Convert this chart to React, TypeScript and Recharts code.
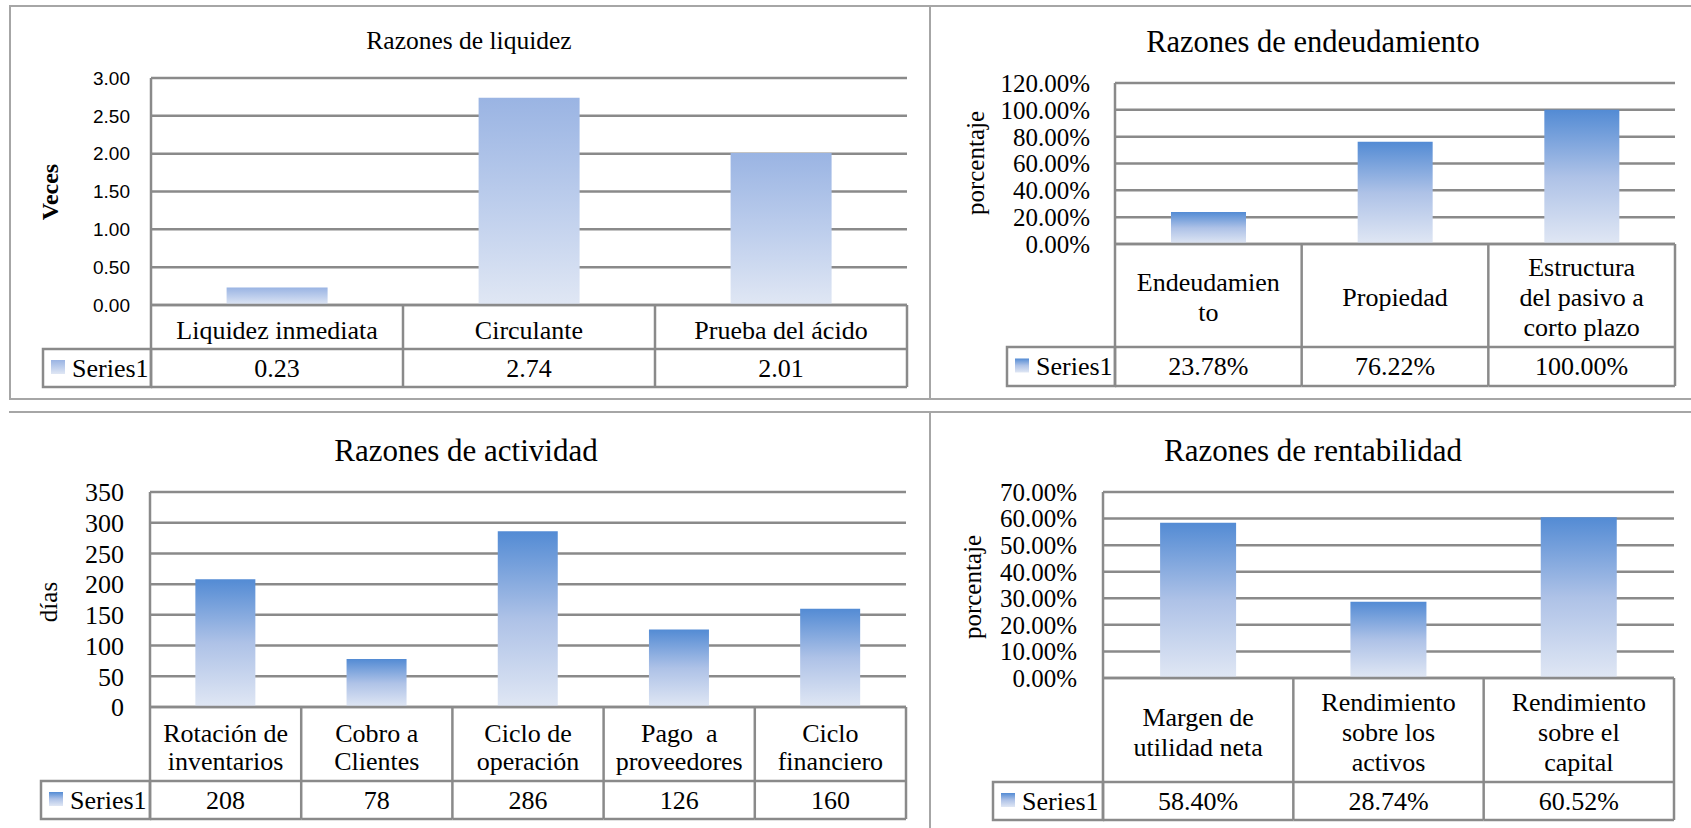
import React from 'react'
import { BarChart, Bar, XAxis, YAxis, CartesianGrid } from 'recharts'

// ---- datos ----
const liquidezCategorias = ['Liquidez inmediata', 'Circulante', 'Prueba del ácido']
const liquidezValores = [0.23, 2.74, 2.01]
const liquidezTicks = [0, 0.5, 1, 1.5, 2, 2.5, 3]

const endeudamientoCategorias = ['Endeudamien\nto', 'Propiedad', 'Estructura\ndel pasivo a\ncorto plazo']
const endeudamientoValores = [0.2378, 0.7622, 1.0]
const endeudamientoTicks = [0, 0.2, 0.4, 0.6, 0.8, 1.0, 1.2]

const actividadCategorias = ['Rotación de\ninventarios', 'Cobro a\nClientes', 'Ciclo de\noperación', 'Pago  a\nproveedores', 'Ciclo\nfinanciero']
const actividadValores = [208, 78, 286, 126, 160]
const actividadTicks = [0, 50, 100, 150, 200, 250, 300, 350]

const rentabilidadCategorias = ['Margen de\nutilidad neta', 'Rendimiento\nsobre los\nactivos', 'Rendimiento\nsobre el\ncapital']
const rentabilidadValores = [0.584, 0.2874, 0.6052]
const rentabilidadTicks = [0, 0.1, 0.2, 0.3, 0.4, 0.5, 0.6, 0.7]

const serieNombre = 'Series1'

const GRID = '#8a8a8a'
const SERIF = '"Liberation Serif", "Times New Roman", serif'
const TABLE_FONT = 26

const fmt2 = (v: number) => v.toFixed(2)
const fmtPct = (v: number) => (v * 100).toFixed(2) + '%'
const fmtInt = (v: number) => String(Math.round(v))

interface Cfg {
  id: string
  title: string
  titleX: number
  titleY: number
  titleSize: number
  panel: { x: number; y: number; w: number; h: number }
  plot: { l: number; r: number; t: number; b: number }
  catBottom: number
  seriesBottom: number
  legendLeft: number
  categories: string[]
  values: number[]
  ticks: number[]
  tickFmt: (v: number) => string
  valueFmt: (v: number) => string
  tickFont: string
  tickSize: number
  tickMargin: number
  yLabel: string
  yLabelX: number
  yLabelY: number
  yLabelBold?: boolean
  yLabelSize: number
  colors: [string, string, string]
  lineH: number
  catShift: number
}

const AxisTitle = (props: any) => {
  const { cx, cy, text, bold, size } = props
  return (
    <text
      x={cx}
      y={cy}
      transform={`rotate(-90 ${cx} ${cy})`}
      textAnchor="middle"
      dominantBaseline="central"
      fontFamily={SERIF}
      fontSize={size}
      fontWeight={bold ? 'bold' : 'normal'}
      fill="#000"
    >
      {text}
    </text>
  )
}

// la tabla de datos de Excel se dibuja en cada tick del eje X
function makeTick(c: Cfg) {
  return (props: any) => {
    const { x, payload } = props
    const i = payload.index
    const ox = c.panel.x
    const oy = c.panel.y
    const w = (c.plot.r - c.plot.l) / c.categories.length
    const L = x - w / 2
    const R = x + w / 2
    const yTop = c.plot.b - oy
    const yMid = c.catBottom - oy
    const yBot = c.seriesBottom - oy
    const lines = String(payload.value).split('\n')
    const base = TABLE_FONT * 0.34
    const catCenter = (yTop + yMid) / 2 + c.catShift
    const first = catCenter - ((lines.length - 1) * c.lineH) / 2 + base
    const valCenter = (yMid + yBot) / 2 + base
    const ll = c.legendLeft - ox
    const pl = c.plot.l - ox
    return (
      <g>
        {i === 0 && (
          <g>
            <line x1={pl} y1={yTop} x2={pl} y2={yBot} stroke={GRID} strokeWidth={2.5} />
            <rect x={ll} y={yMid} width={pl - ll} height={yBot - yMid} fill="none" stroke={GRID} strokeWidth={2.5} />
            <rect x={ll + 8} y={(yMid + yBot) / 2 - 8} width={14} height={14} fill={`url(#g-${c.id})`} />
            <text x={ll + 29} y={valCenter} fontFamily={SERIF} fontSize={TABLE_FONT} fill="#000">
              {serieNombre}
            </text>
          </g>
        )}
        <line x1={L} y1={yTop} x2={R} y2={yTop} stroke={GRID} strokeWidth={2.5} />
        <line x1={L} y1={yMid} x2={R} y2={yMid} stroke={GRID} strokeWidth={2.5} />
        <line x1={L} y1={yBot} x2={R} y2={yBot} stroke={GRID} strokeWidth={2.5} />
        <line x1={R} y1={yTop} x2={R} y2={yBot} stroke={GRID} strokeWidth={2.5} />
        <text textAnchor="middle" fontFamily={SERIF} fontSize={TABLE_FONT} fill="#000">
          {lines.map((ln, k) => (
            <tspan key={k} x={x} y={first + k * c.lineH} style={{ whiteSpace: 'pre' }}>
              {ln}
            </tspan>
          ))}
        </text>
        <text x={x} y={valCenter} textAnchor="middle" fontFamily={SERIF} fontSize={TABLE_FONT} fill="#000">
          {c.valueFmt(c.values[i])}
        </text>
      </g>
    )
  }
}

function RatioChart({ c }: { c: Cfg }) {
  const data = c.categories.map((name, i) => ({ name, valor: c.values[i] }))
  const { panel, plot } = c
  const margin = {
    top: plot.t - panel.y,
    left: 0,
    right: panel.x + panel.w - plot.r,
    bottom: panel.y + panel.h - c.seriesBottom,
  }
  return (
    <div style={{ position: 'absolute', left: panel.x, top: panel.y, width: panel.w, height: panel.h }}>
      <div
        style={{
          position: 'absolute',
          left: c.titleX - panel.x,
          top: c.titleY - panel.y,
          transform: 'translate(-50%, -50%)',
          fontFamily: SERIF,
          fontSize: c.titleSize,
          whiteSpace: 'nowrap',
          color: '#000',
        }}
      >
        {c.title}
      </div>
      <BarChart width={panel.w} height={panel.h} data={data} margin={margin} barCategoryGap="30%">
        <defs>
          <linearGradient id={`g-${c.id}`} x1="0" y1="0" x2="0" y2="1">
            <stop offset="0%" stopColor={c.colors[0]} />
            <stop offset="50%" stopColor={c.colors[1]} />
            <stop offset="100%" stopColor={c.colors[2]} />
          </linearGradient>
        </defs>
        <CartesianGrid vertical={false} stroke={GRID} strokeWidth={2.5} />
        <XAxis
          dataKey="name"
          interval={0}
          axisLine={false}
          tickLine={false}
          tickSize={0}
          tickMargin={0}
          height={c.seriesBottom - plot.b}
          tick={makeTick(c)}
        />
        <YAxis
          width={plot.l - panel.x}
          domain={[c.ticks[0], c.ticks[c.ticks.length - 1]]}
          ticks={c.ticks}
          interval={0}
          tickFormatter={c.tickFmt}
          axisLine={{ stroke: GRID, strokeWidth: 2.5 }}
          tickLine={false}
          tickSize={0}
          tickMargin={c.tickMargin}
          tick={{ fill: '#000', fontSize: c.tickSize, fontFamily: c.tickFont }}
          label={
            <AxisTitle
              cx={c.yLabelX - panel.x}
              cy={c.yLabelY - panel.y}
              text={c.yLabel}
              bold={c.yLabelBold}
              size={c.yLabelSize}
            />
          }
        />
        <Bar dataKey="valor" fill={`url(#g-${c.id})`} isAnimationActive={false} />
      </BarChart>
    </div>
  )
}

const BLUE: [string, string, string] = ['#538bd4', '#aec2e7', '#e0e7f4']
const LIGHT: [string, string, string] = ['#9ab4e3', '#bccdec', '#e0e7f4']

const charts: Cfg[] = [
  {
    id: 'liq', title: 'Razones de liquidez', titleX: 469, titleY: 41, titleSize: 25.5,
    panel: { x: 0, y: 0, w: 930, h: 400 }, plot: { l: 151, r: 907, t: 78, b: 305 },
    catBottom: 349, seriesBottom: 387, legendLeft: 43,
    categories: liquidezCategorias, values: liquidezValores, ticks: liquidezTicks,
    tickFmt: fmt2, valueFmt: fmt2, tickFont: '"Liberation Sans", Arial, sans-serif', tickSize: 19, tickMargin: 21,
    yLabel: 'Veces', yLabelX: 50, yLabelY: 192, yLabelBold: true, yLabelSize: 24,
    colors: LIGHT, lineH: 28, catShift: 3,
  },
  {
    id: 'end', title: 'Razones de endeudamiento', titleX: 1313, titleY: 42, titleSize: 30.5,
    panel: { x: 930, y: 0, w: 761, h: 400 }, plot: { l: 1115, r: 1675, t: 83, b: 244 },
    catBottom: 347, seriesBottom: 386, legendLeft: 1007,
    categories: endeudamientoCategorias, values: endeudamientoValores, ticks: endeudamientoTicks,
    tickFmt: fmtPct, valueFmt: fmtPct, tickFont: SERIF, tickSize: 25, tickMargin: 25,
    yLabel: 'porcentaje', yLabelX: 975, yLabelY: 163, yLabelSize: 25,
    colors: BLUE, lineH: 30, catShift: 2,
  },
  {
    id: 'act', title: 'Razones de actividad', titleX: 466, titleY: 451, titleSize: 31,
    panel: { x: 0, y: 412, w: 930, h: 416 }, plot: { l: 150, r: 906, t: 492, b: 707 },
    catBottom: 781, seriesBottom: 819, legendLeft: 41,
    categories: actividadCategorias, values: actividadValores, ticks: actividadTicks,
    tickFmt: fmtInt, valueFmt: fmtInt, tickFont: SERIF, tickSize: 26, tickMargin: 26,
    yLabel: 'días', yLabelX: 48, yLabelY: 602, yLabelSize: 25,
    colors: BLUE, lineH: 28, catShift: 3,
  },
  {
    id: 'ren', title: 'Razones de rentabilidad', titleX: 1313, titleY: 451, titleSize: 31,
    panel: { x: 930, y: 412, w: 761, h: 416 }, plot: { l: 1103, r: 1674, t: 492, b: 678 },
    catBottom: 782, seriesBottom: 820, legendLeft: 993,
    categories: rentabilidadCategorias, values: rentabilidadValores, ticks: rentabilidadTicks,
    tickFmt: fmtPct, valueFmt: fmtPct, tickFont: SERIF, tickSize: 25, tickMargin: 26,
    yLabel: 'porcentaje', yLabelX: 972, yLabelY: 587, yLabelSize: 25,
    colors: BLUE, lineH: 30, catShift: 2,
  },
]

const frame = '#a6a6a6'

export default function App() {
  return (
    <div style={{ position: 'absolute', left: 0, top: 0, width: 1691, height: 828, background: '#fff', overflow: 'hidden' }}>
      {/* marcos de los graficos */}
      <div style={{ position: 'absolute', left: 9, top: 5, width: 1691 - 9, height: 0, borderTop: `2px solid ${frame}` }} />
      <div style={{ position: 'absolute', left: 9, top: 5, width: 0, height: 394, borderLeft: `2px solid ${frame}` }} />
      <div style={{ position: 'absolute', left: 9, top: 398, width: 1691 - 9, height: 0, borderTop: `2px solid ${frame}` }} />
      <div style={{ position: 'absolute', left: 929, top: 5, width: 0, height: 394, borderLeft: `2px solid ${frame}` }} />
      <div style={{ position: 'absolute', left: 9, top: 411, width: 1691 - 9, height: 0, borderTop: `2px solid ${frame}` }} />
      <div style={{ position: 'absolute', left: 929, top: 411, width: 0, height: 417, borderLeft: `2px solid ${frame}` }} />
      {charts.map((c) => (
        <RatioChart key={c.id} c={c} />
      ))}
    </div>
  )
}
